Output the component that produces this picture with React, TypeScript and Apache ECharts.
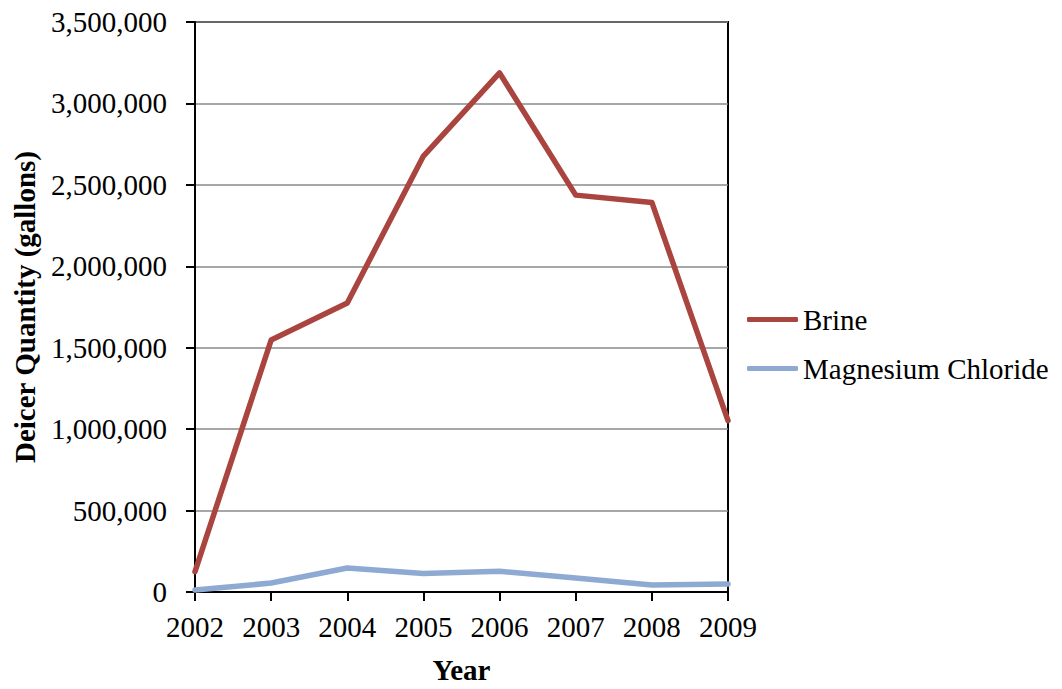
import React, { useEffect, useRef } from "react";
import * as echarts from "echarts";

// Yearly deicer usage, in gallons
const years = ["2002", "2003", "2004", "2005", "2006", "2007", "2008", "2009"];
const brine = [125000, 1547000, 1775000, 2677000, 3187000, 2437000, 2392000, 1052000];
const magnesiumChloride = [12000, 55000, 147000, 114000, 127000, 86000, 43000, 49000];

const yMin = 0;
const yMax = 3500000;
const yStep = 500000;

const FONT = '"Liberation Serif", "Times New Roman", serif';

export default function App() {
  const ref = useRef<HTMLDivElement>(null);

  useEffect(() => {
    if (!ref.current) return;
    const chart = echarts.init(ref.current, null, { renderer: "svg" });
    chart.setOption({
      animation: false,
      backgroundColor: "#ffffff",
      textStyle: { fontFamily: FONT, color: "#000" },
      grid: {
        left: 195,
        right: 334,
        top: 22,
        bottom: 94,
        show: true,
        borderColor: "#000",
        borderWidth: 2,
        backgroundColor: "transparent",
      },
      legend: {
        orient: "vertical",
        left: 742,
        top: 300,
        icon: "roundRect",
        itemWidth: 51,
        itemHeight: 5,
        itemGap: 20,
        textStyle: { fontFamily: FONT, fontSize: 29, color: "#000" },
        data: ["Brine", "Magnesium Chloride"],
      },
      xAxis: {
        type: "category",
        data: years,
        boundaryGap: false,
        name: "Year",
        nameLocation: "middle",
        nameGap: 63,
        nameTextStyle: { fontFamily: FONT, fontSize: 29, fontWeight: "bold", color: "#000" },
        axisLine: { lineStyle: { color: "#000", width: 2 } },
        axisTick: { show: true, inside: false, length: 9, lineStyle: { color: "#000", width: 2 } },
        axisLabel: { fontFamily: FONT, fontSize: 29, color: "#000", margin: 20, interval: 0 },
        splitLine: { show: false },
      },
      yAxis: {
        type: "value",
        min: yMin,
        max: yMax,
        interval: yStep,
        name: "Deicer Quantity (gallons)",
        nameLocation: "middle",
        nameGap: 156,
        nameTextStyle: { fontFamily: FONT, fontSize: 29, fontWeight: "bold", color: "#000" },
        axisLine: { show: true, lineStyle: { color: "#000", width: 2 } },
        axisTick: { show: true, inside: false, length: 9, lineStyle: { color: "#000", width: 2 } },
        axisLabel: {
          fontFamily: FONT,
          fontSize: 29,
          color: "#000",
          margin: 28,
          formatter: (v: number) => v.toLocaleString("en-US"),
        },
        splitLine: { show: true, lineStyle: { color: "#8a8a8a", width: 1.5 } },
      },
      series: [
        {
          name: "Brine",
          type: "line",
          data: brine,
          showSymbol: false,
          symbol: "none",
          lineStyle: { color: "#A9443F", width: 5.5, cap: "round", join: "round" },
          itemStyle: { color: "#A9443F" },
        },
        {
          name: "Magnesium Chloride",
          type: "line",
          data: magnesiumChloride,
          showSymbol: false,
          symbol: "none",
          lineStyle: { color: "#8FAAD2", width: 5.5, cap: "round", join: "round" },
          itemStyle: { color: "#8FAAD2" },
        },
      ],
    });
    return () => chart.dispose();
  }, []);

  return (
    <div
      ref={ref}
      style={{ position: "fixed", left: 0, top: 0, width: 1062, height: 689 }}
    />
  );
}
